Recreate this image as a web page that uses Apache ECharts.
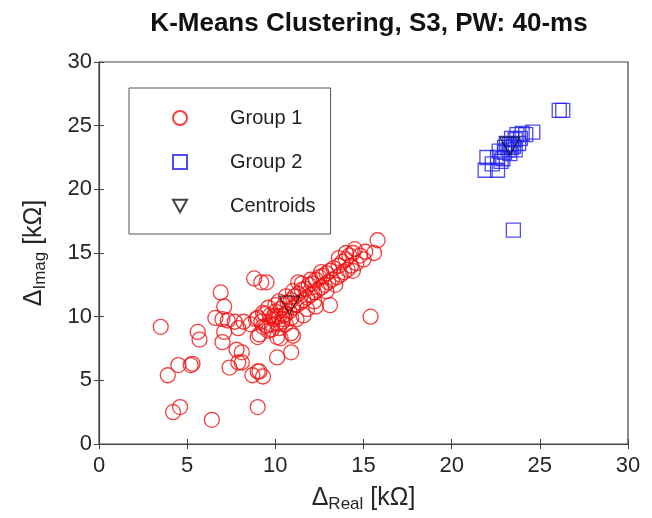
<!DOCTYPE html>
<html>
<head>
<meta charset="utf-8">
<script src="https://cdn.jsdelivr.net/npm/echarts@6/dist/echarts.min.js"></script>
<style>
	html, body { margin: 0; padding: 0; background: #fff; }
	#chart { width: 652px; height: 518px; }
</style>
</head>
<body>
<div id="chart"></div>
<script>
	// 数据 (kΩ)
	var xTicks = [0, 5, 10, 15, 20, 25, 30];
	var yTicks = [0, 5, 10, 15, 20, 25, 30];

	var group1 = [
		[3.5, 9.2], [3.9, 5.4], [4.2, 2.5], [4.6, 2.9], [4.5, 6.2], [5.2, 6.2], [5.3, 6.3],
		[5.6, 8.8], [5.7, 8.2], [6.4, 1.9], [6.6, 9.9], [6.9, 11.9], [7.1, 10.8], [7.0, 9.8],
		[7.3, 9.7], [7.7, 9.6], [8.2, 9.6], [7.9, 9.1], [7.1, 8.8], [7.0, 8.0], [7.8, 7.4],
		[7.9, 6.4], [7.4, 6.0], [8.7, 5.4], [9.0, 5.7], [9.1, 5.7], [9.3, 5.3], [9.0, 2.9],
		[10.1, 6.8], [10.9, 8.7], [10.9, 7.2], [10.1, 8.4], [10.3, 8.3], [9.0, 8.4], [8.1, 7.2],
		[8.1, 6.4], [8.8, 13.0], [9.2, 12.7], [9.5, 12.7], [11.3, 12.7], [13.1, 10.9], [15.4, 10.0],
		[8.6, 9.4], [8.9, 9.8], [9.2, 9.6], [9.4, 10.2], [9.5, 9.3], [9.7, 10.1], [9.8, 9.4],
		[9.9, 9.8], [10.0, 10.4], [10.1, 9.5], [10.2, 10.0], [10.3, 10.6], [10.4, 9.8], [10.5, 10.9],
		[10.6, 10.2], [10.7, 11.1], [10.8, 10.4], [10.9, 11.3], [11.0, 10.7], [11.1, 11.6], [11.2, 10.9],
		[11.3, 11.8], [11.4, 11.1], [11.5, 12.1], [11.6, 11.3], [11.7, 12.2], [11.8, 11.5], [11.9, 12.5],
		[12.0, 11.7], [12.1, 12.6], [12.2, 11.9], [12.3, 12.9], [12.4, 12.1], [12.5, 13.1], [12.6, 12.3],
		[12.7, 13.2], [12.8, 12.5], [12.9, 13.4], [13.0, 12.7], [13.1, 13.6], [13.2, 12.9], [13.3, 13.8],
		[13.5, 13.1], [13.6, 14.0], [13.7, 13.3], [13.8, 14.3], [13.9, 13.5], [14.0, 14.5], [14.1, 13.7],
		[14.2, 14.8], [14.3, 14.0], [14.4, 15.0], [14.6, 14.2], [14.8, 14.8], [15.0, 14.5], [15.1, 15.1],
		[14.5, 15.3], [14.0, 15.0], [13.6, 14.6], [15.8, 16.0], [15.6, 15.0], [12.0, 12.9], [11.5, 12.6],
		[10.2, 11.2], [10.0, 10.9], [11.8, 10.6], [12.2, 11.2], [9.6, 10.7], [9.3, 10.3], [9.1, 8.6],
		[9.6, 8.9], [10.2, 9.1], [10.6, 9.4], [11.2, 9.8], [11.6, 10.1], [12.3, 10.8], [11.0, 8.5],
		[9.3, 9.2], [9.8, 9.0], [10.4, 9.6], [9.0, 9.9], [10.6, 11.6], [11.0, 12.0], [12.6, 13.5],
		[13.4, 12.5], [14.4, 13.6], [12.9, 12.0], [10.9, 9.9], [9.9, 10.0], [10.5, 10.1]
	];

	var group2 = [
		[26.1, 26.2], [26.3, 26.2], [23.5, 16.8], [21.9, 21.5], [22.0, 22.5], [22.6, 21.5],
		[22.6, 22.5], [22.3, 22.0], [22.8, 22.2], [23.0, 22.9], [22.9, 22.4], [23.2, 23.1],
		[23.3, 23.5], [23.4, 23.3], [23.1, 23.6], [23.6, 23.9], [23.5, 23.4], [23.7, 24.3],
		[23.8, 23.6], [24.0, 24.4], [23.9, 24.0], [24.2, 24.3], [24.6, 24.5], [23.3, 22.8],
		[23.6, 23.1], [23.0, 23.3], [23.4, 24.0], [22.7, 23.0]
	];

	var centroids = [[10.8, 10.9], [23.3, 23.4]];

	var axisColor = '#444';
	var labelColor = '#262626';
	var fontName = 'Liberation Sans';
	// 倒三角
	var triDown = 'path://M0,0 L20,0 L10,18 Z';

	function hollow(color) {
		return { color: 'rgba(0,0,0,0)', borderColor: color, borderWidth: 1.3 };
	}

	var chart = echarts.init(document.getElementById('chart'));
	var option = {
		animation: false,
		backgroundColor: '#fff',
		title: {
			text: 'K-Means Clustering, S3, PW: 40-ms',
			left: 364,
			textAlign: 'center',
			top: 6,
			textStyle: { fontFamily: fontName, fontSize: 26, fontWeight: 'bold', color: '#111' }
		},
		grid: {
			left: 99, right: 24, top: 62, bottom: 74,
			show: true, borderColor: axisColor, borderWidth: 1.2, backgroundColor: 'transparent'
		},
		legend: {
			orient: 'vertical',
			left: 129,
			top: 88,
			padding: [20, 15, 18, 43],
			itemGap: 24,
			itemWidth: 14,
			itemHeight: 14,
			borderColor: '#555',
			borderWidth: 1,
			backgroundColor: '#fff',
			textStyle: { fontFamily: fontName, fontSize: 20, color: '#222', padding: [0, 0, 0, 38] },
			data: ['Group 1', 'Group 2', 'Centroids']
		},
		xAxis: [{
			type: 'value', min: 0, max: 30, interval: 5,
			axisLine: { show: true, lineStyle: { color: axisColor, width: 1.2 } },
			axisTick: { show: true, inside: true, length: 5, lineStyle: { color: axisColor } },
			splitLine: { show: false },
			axisLabel: { color: labelColor, fontFamily: fontName, fontSize: 22, margin: 11 },
			name: '{d|Δ}{s|Real}{d| [kΩ]}',
			nameLocation: 'middle',
			nameGap: 40,
			nameTextStyle: {
				rich: {
					d: { fontFamily: fontName, fontSize: 25, color: labelColor },
					s: { fontFamily: fontName, fontSize: 17, color: labelColor, padding: [12, 0, 0, 0] }
				}
			}
		}, {
			type: 'value', min: 0, max: 30, interval: 5, position: 'top',
			axisLine: { show: false },
			axisTick: { show: true, inside: true, length: 5, lineStyle: { color: axisColor } },
			axisLabel: { show: false }, splitLine: { show: false }
		}],
		yAxis: [{
			type: 'value', min: 0, max: 30, interval: 5, position: 'left',
			axisLine: { show: true, lineStyle: { color: axisColor, width: 1.2 } },
			axisTick: { show: true, inside: true, length: 5, lineStyle: { color: axisColor } },
			splitLine: { show: false },
			axisLabel: { color: labelColor, fontFamily: fontName, fontSize: 22, margin: 7 },
			name: '{d|Δ}{s|Imag}{d| [kΩ]}',
			nameLocation: 'middle',
			nameGap: 50,
			nameTextStyle: {
				rich: {
					d: { fontFamily: fontName, fontSize: 25, color: labelColor },
					s: { fontFamily: fontName, fontSize: 17, color: labelColor, padding: [12, 0, 0, 0] }
				}
			}
		}, {
			type: 'value', min: 0, max: 30, interval: 5, position: 'right',
			axisLine: { show: false },
			axisTick: { show: true, inside: true, length: 5, lineStyle: { color: axisColor } },
			axisLabel: { show: false }, splitLine: { show: false }
		}],
		series: [{
			name: 'Group 1',
			type: 'scatter',
			symbol: 'circle',
			symbolSize: 15,
			itemStyle: hollow('#f01010'),
			data: group1
		}, {
			name: 'Group 2',
			type: 'scatter',
			symbol: 'rect',
			symbolSize: 14,
			itemStyle: hollow('#2020ee'),
			data: group2
		}, {
			name: 'Centroids',
			type: 'scatter',
			symbol: triDown,
			symbolSize: [20, 18],
			itemStyle: hollow('#111'),
			data: centroids
		}]
	};
	chart.setOption(option);
</script>
</body>
</html>
